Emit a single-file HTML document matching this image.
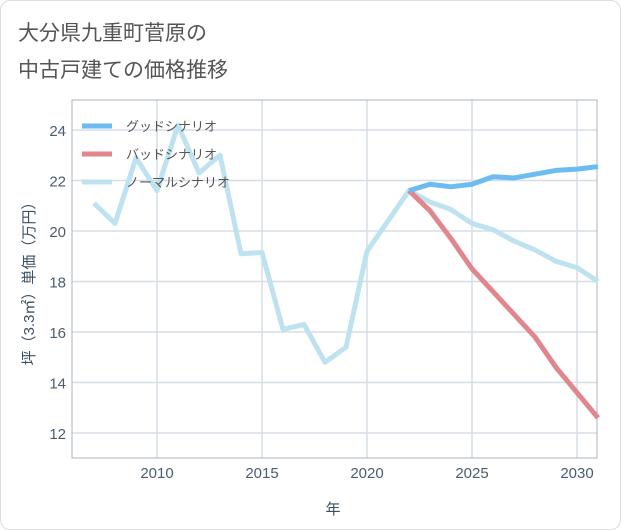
<!DOCTYPE html>
<html><head><meta charset="utf-8"><style>
body{margin:0;background:#fff;font-family:"Liberation Sans","Noto Sans CJK JP",sans-serif;}
#card{position:absolute;left:0;top:0;width:619px;height:528px;border:1px solid #ddd;border-radius:10px;background:#fff;}
</style></head><body>
<div id="card"></div>
<svg id="c" width="621" height="530" style="position:absolute;left:0;top:0">
<text x="18" y="40" font-size="21" fill="#555">大分県九重町菅原の</text>
<text x="18" y="77" font-size="21" fill="#555">中古戸建ての価格推移</text>
<g id="grid"></g><g id="series"></g><g id="legend"></g>
<text x="333" y="514" font-size="15" fill="#3d4f63" text-anchor="middle">年</text>
<text transform="translate(34,280) rotate(-90)" font-size="15" fill="#3d4f63" text-anchor="middle">坪（3.3㎡）単価（万円）</text>
</svg>
<script>
const years=[2007,2008,2009,2010,2011,2012,2013,2014,2015,2016,2017,2018,2019,2020,2021,2022,2023,2024,2025,2026,2027,2028,2029,2030,2031];
const normal=[21.1,20.3,22.9,21.6,24.2,22.3,23.0,19.1,19.15,16.1,16.3,14.8,15.4,19.2,20.4,21.6,21.15,20.85,20.3,20.05,19.6,19.25,18.8,18.55,18.0];
const goodYears=[2022,2023,2024,2025,2026,2027,2028,2029,2030,2031];
const good=[21.6,21.85,21.75,21.85,22.15,22.1,22.25,22.4,22.45,22.55];
const bad=[21.6,20.8,19.7,18.5,17.6,16.7,15.8,14.6,13.6,12.6];
const xTicks=[2010,2015,2020,2025,2030];
const yTicks=[12,14,16,18,20,22,24];
const L=72,R=597,T=100,B=458;
const X=y=>157+(y-2010)*21;
const Y=v=>433-(v-12)*25.25;
const NS="http://www.w3.org/2000/svg";
function mk(p,t,a){const e=document.createElementNS(NS,t);for(const k in a)e.setAttribute(k,a[k]);p.appendChild(e);return e;}
const g=document.getElementById('grid');
xTicks.forEach(t=>{
const l=mk(g,'line',{x1:X(t),x2:X(t),y1:T,y2:B,stroke:'#d5dde5','stroke-width':1.5});


const tx=mk(g,'text',{x:X(t),y:B+20,'font-size':15,fill:'#4a5c70','text-anchor':'middle'});tx.textContent=t;


});
yTicks.forEach(t=>{
const l=mk(g,'line',{x1:L,x2:R,y1:Y(t),y2:Y(t),stroke:'#d5dde5','stroke-width':1.5});


const tx=mk(g,'text',{x:L-6,y:Y(t)+6,'font-size':15,fill:'#4a5c70','text-anchor':'end'});tx.textContent=t;


});
const fr=mk(g,'rect',{x:L,y:T,width:R-L,height:B-T,fill:'none',stroke:'#aab4bd','stroke-width':1});


const lg=document.getElementById('legend');
[['グッドシナリオ','#6cbcf2'],['バッドシナリオ','#e0868d'],['ノーマルシナリオ','#bfe2f0']].forEach((d,i)=>{
const y=126+i*28;
const l=mk(lg,'line',{x1:82,x2:112,y1:y,y2:y,stroke:d[1],'stroke-width':5});


const t=mk(lg,'text',{x:126,y:y+5,'font-size':13,fill:'#555'});t.textContent=d[0];


});
const s=document.getElementById('series');
function line(xs,vs,c,n){const p=mk(s,'polyline',{points:xs.map((y,i)=>X(y)+','+Y(vs[i])).join(' '),fill:'none',stroke:c,'stroke-width':5,'stroke-linejoin':'round'});

}
line(years,normal,'#bfe2f0','normal-scenario-line');
line(goodYears,bad,'#e0868d','bad-scenario-line');
line(goodYears,good,'#6cbcf2','good-scenario-line');
</script>
</body></html>
